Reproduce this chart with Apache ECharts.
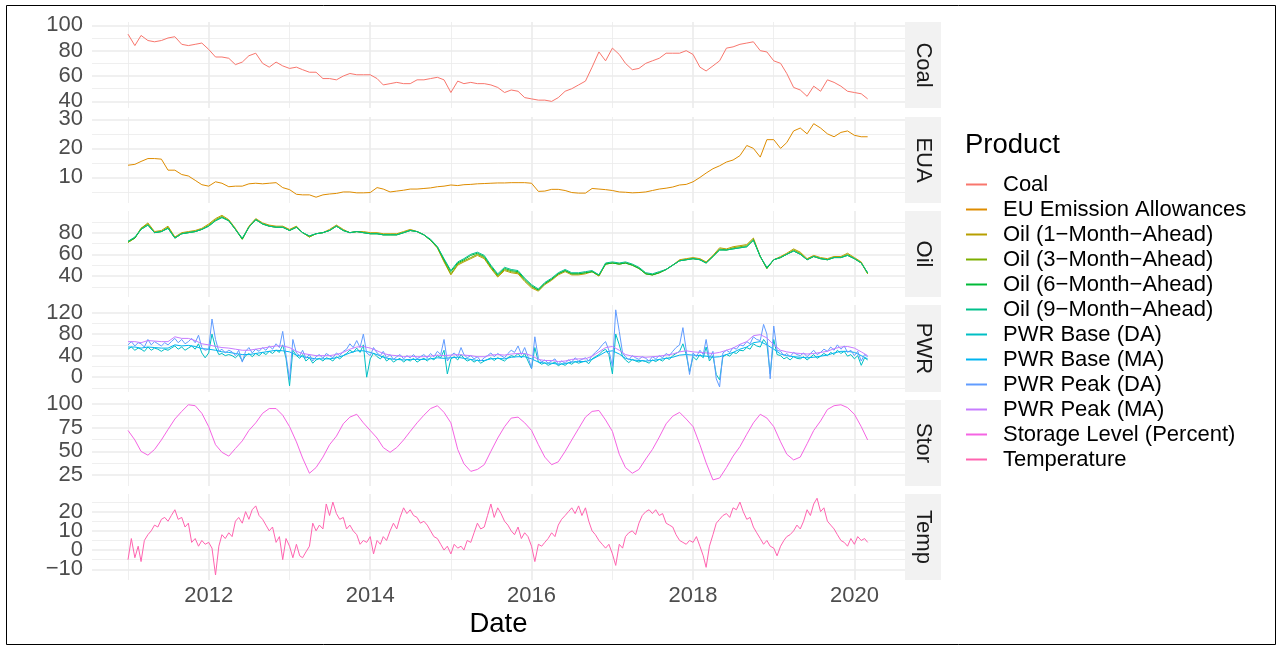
<!DOCTYPE html>
<html>
<head>
<meta charset="utf-8">
<title>Product prices</title>
<script src="https://cdn.jsdelivr.net/npm/echarts@6/dist/echarts.min.js"></script>
<style>
html, body { margin: 0; padding: 0; background: #fff; }
#main { width: 1279px; height: 649px; }
</style>
</head>
<body>
<div id="main"></div>
<script>
// dates: first of each month, Jan 2011 - Mar 2020
var months = [];
// dates: 1st and 16th of each month, Jan 2011 - Mar 1 2020
var halfMonths = [];
for (var yr = 2011; yr <= 2020; yr++) {
    for (var mo = 1; mo <= 12; mo++) {
        if (yr === 2020 && mo > 3) break;
        var mm = mo < 10 ? '0' + mo : '' + mo;
        months.push(yr + '-' + mm + '-01');
        halfMonths.push(yr + '-' + mm + '-01');
        if (!(yr === 2020 && mo === 3)) halfMonths.push(yr + '-' + mm + '-16');
    }
}

var majorYears = ['2012-01-01', '2014-01-01', '2016-01-01', '2018-01-01', '2020-01-01'];
var minorYears = ['2011-01-01', '2013-01-01', '2015-01-01', '2017-01-01', '2019-01-01'];

var products = ['Coal', 'EU Emission Allowances', 'Oil (1\u2212Month\u2212Ahead)', 'Oil (3\u2212Month\u2212Ahead)',
    'Oil (6\u2212Month\u2212Ahead)', 'Oil (9\u2212Month\u2212Ahead)', 'PWR Base (DA)', 'PWR Base (MA)',
    'PWR Peak (DA)', 'PWR Peak (MA)', 'Storage Level (Percent)', 'Temperature'];
var colors = ['#F8766D', '#DE8C00', '#B79F00', '#7CAE00', '#00BA38', '#00C08B',
    '#00BFC4', '#00B4F0', '#619CFF', '#C77CFF', '#F564E3', '#FF64B0'];

// monthly
var coal = [
    93, 84, 92, 88, 87, 88, 90, 91, 85, 84, 85, 86,
    81, 75, 75, 74, 69, 71, 76, 78, 70, 67, 71, 68,
    66, 67, 65, 63, 63, 58, 58, 57, 60, 62, 61, 61,
    61, 58, 53, 54, 55, 54, 54, 57, 57, 58, 59, 57,
    47, 56, 54, 55, 54, 54, 53, 51, 47, 49, 48, 43,
    42, 41, 41, 40, 43, 48, 50, 53, 56, 67, 79, 72,
    82, 77, 70, 65, 66, 70, 72, 74, 78, 78, 78, 80,
    77, 67, 64, 68, 72, 82, 83, 85, 86, 87, 80, 79,
    72, 70, 62, 51, 49, 44, 52, 48, 57, 55, 52, 48,
    47, 46, 42];
var eua = [
    14.2, 14.5, 15.5, 16.5, 16.5, 16.3, 12.5, 12.5, 11, 10.5, 9, 7.5,
    7, 8.5, 8, 6.8, 7, 7, 7.8, 8, 7.8, 8, 8.2, 6.5,
    5.8, 4.2, 4, 4, 3.2, 4, 4.3, 4.5, 5, 5, 4.7, 4.7,
    4.8, 6.5, 6, 5, 5.3, 5.6, 6, 6, 6.2, 6.4, 6.8, 7,
    7.4, 7.2, 7.5, 7.6, 7.8, 7.9, 8, 8.1, 8.1, 8.2, 8.2, 8.2,
    8, 5.2, 5.3, 5.9, 5.9, 5.5, 4.8, 4.6, 4.6, 6.2, 6, 5.8,
    5.5, 5, 4.9, 4.7, 4.8, 5, 5.5, 6, 6.3, 6.7, 7.4, 7.6,
    8.5, 10, 11.5, 13, 14, 15.3, 16, 17.5, 21, 20, 17, 23,
    23, 20, 22, 26, 27, 25, 28.5, 27, 25, 24, 25.5, 26,
    24.5, 24, 24];
var oil1m = [
    71, 75, 84, 89, 81, 82, 86, 76, 80, 81, 82, 84,
    88, 93, 96, 92, 84, 74, 86, 93, 89, 87, 86, 86,
    83, 86, 80, 76, 79, 80, 83, 87, 83, 80, 81, 81,
    80, 80, 79, 79, 79, 81, 83, 81, 78, 73, 66, 53,
    41, 50, 53, 56, 59, 56, 47, 39, 45, 43, 42, 35,
    29, 26, 32, 36, 41, 44, 41, 41, 42, 44, 40, 51,
    52, 51, 52, 50, 47, 42, 41, 43, 46, 50, 55, 56,
    57, 56, 53, 59, 66, 65, 67, 68, 69, 75, 58, 47,
    55, 58, 61, 65, 62, 56, 59, 57, 56, 58, 58, 61,
    57, 53, 42];
var oil3m = [
    71, 75, 84, 88, 80, 81, 85, 75, 79, 80, 81, 83,
    87, 92, 95, 91, 83, 74, 85, 92, 88, 86, 85, 85,
    82, 85, 80, 76, 79, 80, 82, 86, 82, 80, 81, 80,
    79, 79, 78, 78, 78, 80, 82, 81, 78, 73, 66, 54,
    42, 51, 54, 57, 60, 57, 48, 40, 46, 44, 43, 36,
    30, 27, 33, 37, 42, 45, 42, 42, 43, 44, 40, 51,
    52, 51, 52, 50, 47, 42, 41, 43, 46, 50, 54, 55,
    56, 55, 52, 58, 65, 64, 66, 67, 68, 74, 58, 47,
    55, 57, 60, 64, 61, 55, 58, 56, 55, 57, 57, 60,
    56, 52, 42];
var oil6m = [
    72, 75, 83, 87, 80, 81, 84, 75, 79, 80, 81, 83,
    86, 91, 94, 91, 83, 74, 85, 92, 88, 86, 85, 85,
    82, 85, 80, 77, 79, 80, 82, 86, 82, 80, 81, 80,
    79, 79, 78, 78, 78, 80, 82, 81, 78, 73, 67, 55,
    44, 52, 55, 59, 61, 58, 49, 41, 47, 45, 44, 37,
    31, 27, 33, 37, 42, 45, 42, 42, 43, 44, 41, 51,
    52, 51, 52, 50, 47, 42, 41, 43, 46, 50, 54, 55,
    56, 55, 52, 58, 64, 64, 65, 66, 67, 73, 58, 47,
    55, 57, 60, 63, 60, 55, 58, 56, 55, 57, 57, 59,
    56, 52, 43];
var oil9m = [
    72, 76, 83, 87, 80, 81, 84, 75, 79, 80, 81, 83,
    86, 91, 94, 91, 83, 75, 85, 92, 88, 86, 85, 85,
    82, 85, 80, 77, 79, 80, 82, 86, 82, 80, 81, 80,
    79, 79, 78, 78, 78, 80, 82, 81, 78, 74, 67, 56,
    45, 53, 56, 60, 62, 59, 50, 42, 48, 46, 45, 38,
    32, 28, 34, 38, 43, 46, 43, 43, 44, 45, 41, 52,
    53, 52, 53, 51, 48, 43, 42, 44, 46, 50, 54, 55,
    56, 55, 52, 58, 64, 64, 65, 66, 67, 73, 58, 48,
    55, 57, 60, 63, 60, 55, 58, 56, 55, 57, 57, 59,
    56, 52, 43];
var pwrBaseMA = [
    56, 56, 54, 56, 55, 54, 54, 60, 58, 59, 57, 53,
    52, 50, 47, 46, 44, 42, 42, 44, 46, 48, 50, 49,
    47, 41, 38, 36, 34, 34, 34, 36, 40, 45, 49, 49,
    46, 42, 37, 34, 33, 32, 33, 33, 33, 34, 36, 35,
    36, 37, 35, 33, 31, 31, 34, 35, 34, 37, 38, 38,
    34, 28, 26, 26, 24, 25, 28, 29, 29, 33, 40, 47,
    49, 43, 35, 32, 31, 30, 31, 33, 35, 37, 41, 42,
    41, 40, 39, 37, 38, 42, 46, 52, 56, 64, 66, 60,
    52, 43, 40, 38, 37, 36, 37, 39, 41, 45, 48, 48,
    46, 40, 34];
var pwrPeakMA = [
    66, 66, 64, 68, 67, 66, 66, 75, 72, 72, 68, 62,
    60, 57, 55, 54, 52, 50, 50, 52, 54, 56, 58, 58,
    55, 48, 44, 42, 40, 40, 40, 42, 46, 52, 56, 57,
    54, 49, 44, 41, 40, 38, 39, 38, 38, 39, 41, 40,
    41, 42, 41, 40, 38, 38, 41, 42, 41, 43, 44, 44,
    40, 33, 31, 31, 29, 30, 33, 34, 34, 39, 47, 55,
    57, 50, 42, 39, 38, 37, 38, 39, 41, 43, 47, 49,
    47, 46, 45, 44, 46, 50, 54, 61, 66, 77, 79, 73,
    60, 50, 47, 45, 44, 43, 44, 46, 48, 53, 56, 57,
    54, 47, 40];
var storage = [
    72, 62, 50, 46, 52, 62, 73, 84, 92, 99, 98, 90,
    76, 57, 49, 45, 53, 61, 72, 80, 90, 95, 95, 88,
    76, 60, 43, 27, 33, 44, 57, 66, 79, 86, 89, 80,
    72, 64, 54, 49, 54, 62, 71, 80, 88, 95, 98, 91,
    80, 52, 37, 29, 31, 36, 50, 64, 76, 85, 86, 80,
    72, 57, 44, 36, 39, 50, 62, 74, 86, 92, 93, 83,
    71, 47, 33, 27, 31, 42, 52, 65, 79, 87, 91, 84,
    76, 57, 38, 20, 22, 33, 45, 55, 68, 80, 89, 85,
    76, 60, 47, 41, 44, 58, 72, 82, 94, 98, 99, 96,
    89, 76, 62];

// half-monthly
var pwrBaseDA = [
    52, 56, 50, 54, 52, 48, 56, 50, 54, 52, 48, 52, 50, 54, 58, 52, 56, 50, 54, 58, 52, 62, 45, 36,
    45, 80, 55, 42, 44, 40, 42, 40, 36, 42, 30, 40, 44, 38, 44, 40, 46, 42, 48, 44, 50, 46, 60, 35,
    -16, 50, 40, 35, 42, 30, 36, 26, 32, 35, 30, 36, 34, 30, 38, 34, 40, 44, 50, 46, 54, 46, 60, 0,
    34, 45, 38, 34, 40, 30, 35, 28, 32, 35, 28, 33, 30, 35, 28, 32, 35, 30, 36, 32, 40, 36, 50, 6,
    34, 38, 32, 42, 35, 30, 33, 28, 32, 26, 30, 33, 36, 31, 36, 33, 30, 36, 40, 38, 44, 36, 44, 30,
    16, 55, 28, 24, 27, 22, 25, 28, 21, 25, 22, 27, 24, 29, 26, 28, 30, 25, 34, 38, 42, 48, 52, 42,
    6, 80, 60, 38, 32, 27, 33, 30, 28, 31, 29, 26, 32, 29, 33, 30, 36, 33, 40, 44, 48, 62, 42, 10,
    38, 32, 42, 36, 56, 30, 40, 5, -5, 38, 42, 39, 46, 44, 50, 49, 55, 52, 62, 58, 56, 70, 62, 6,
    70, 42, 40, 34, 37, 32, 38, 35, 34, 38, 32, 37, 42, 35, 39, 44, 40, 46, 42, 50, 44, 48, 39, 42,
    34, 40, 22, 36, 32];
var pwrPeakDA = [
    60, 66, 58, 64, 62, 56, 70, 60, 66, 62, 58, 64, 60, 66, 72, 64, 70, 62, 66, 72, 64, 78, 55, 50,
    52, 108, 70, 48, 52, 45, 50, 47, 40, 50, 28, 48, 55, 45, 52, 48, 55, 50, 58, 52, 62, 55, 85, 40,
    -5, 70, 45, 40, 50, 35, 42, 30, 38, 42, 35, 44, 40, 36, 45, 40, 48, 52, 62, 55, 68, 55, 80, 45,
    40, 55, 45, 40, 48, 36, 42, 33, 38, 42, 34, 40, 36, 42, 34, 38, 42, 36, 44, 38, 48, 42, 70, 30,
    40, 45, 38, 55, 42, 36, 40, 34, 38, 30, 36, 40, 45, 38, 44, 40, 36, 44, 50, 46, 58, 42, 55, 38,
    16, 75, 35, 28, 32, 26, 30, 34, 24, 30, 26, 32, 28, 36, 30, 33, 36, 30, 40, 46, 52, 60, 66, 50,
    20, 125, 85, 45, 38, 32, 40, 36, 33, 38, 35, 30, 38, 34, 40, 36, 44, 40, 48, 55, 60, 92, 50, 5,
    45, 38, 50, 42, 70, 35, 48, -3, -18, 45, 50, 46, 55, 52, 60, 58, 66, 62, 75, 70, 68, 98, 80, -3,
    95, 50, 48, 40, 44, 38, 46, 42, 40, 45, 38, 44, 50, 42, 46, 52, 48, 56, 50, 60, 52, 58, 46, 50,
    40, 48, 30, 42, 38];
var temperature = [
    -5, 6, -4, 2, -6, 5, 8, 10, 13, 12, 16, 17, 15, 18, 21, 16, 17, 12, 14, 4, 6, 2, 5, 3,
    4, 1, -13, 2, 8, 6, 9, 7, 15, 17, 14, 20, 16, 21, 23, 18, 16, 13, 10, 12, 4, 7, -5, 6,
    2, -4, 3, -3, -4, -1, 2, 14, 10, 13, 11, 24, 18, 25, 19, 16, 17, 11, 13, 10, 8, 3, 5, 4,
    7, -2, 5, 3, 7, 5, 10, 14, 11, 17, 22, 19, 21, 18, 17, 14, 15, 13, 10, 7, 6, 3, 0, 2,
    -2, 3, 1, 2, 0, 5, 4, 9, 14, 11, 12, 18, 24, 17, 22, 19, 15, 13, 10, 8, 12, 6, 9, 7,
    2, -6, 3, 2, 4, 6, 9, 7, 13, 16, 18, 20, 22, 19, 23, 18, 22, 15, 10, 8, 5, 3, 1, 3,
    -2, -8, 3, 1, 7, 9, 10, 8, 14, 18, 20, 21, 19, 21, 18, 19, 14, 13, 12, 8, 5, 4, 3, 5,
    4, 7, 2, -3, -9, 2, 8, 14, 16, 18, 19, 17, 22, 21, 25, 20, 16, 17, 12, 9, 6, 3, 5, 2,
    1, -3, 2, 5, 7, 8, 10, 13, 11, 15, 21, 18, 24, 27, 20, 22, 15, 13, 11, 8, 5, 4, 2, 6,
    3, 7, 5, 6, 4];

// y tick labels per facet
var coalTicks = [40, 60, 80, 100], coalMinor = [50, 70, 90];
var euaTicks = [10, 20, 30], euaMinor = [5, 15, 25];
var oilTicks = [40, 60, 80], oilMinor = [30, 50, 70, 90];
var pwrTicks = [0, 40, 80, 120], pwrMinor = [-20, 20, 60, 100];
var storTicks = [25, 50, 75, 100], storMinor = [37.5, 62.5, 87.5];
var tempTicks = [-10, 0, 10, 20], tempMinor = [-5, 5, 15, 25];

var FONT = 'Liberation Sans, Arial, Helvetica, sans-serif';
var GRID_COL = '#EBEBEB';
var X_MIN = Date.parse('2010-07-22'), X_MAX = Date.parse('2020-08-17');
var PANEL_LEFT = 92, PANEL_W = 813;

var panels = [
    { strip: 'Coal', top: 22, height: 86, min: 34.8, max: 102.6, ticks: coalTicks, minor: coalMinor },
    { strip: 'EUA', top: 117, height: 86, min: 1.2, max: 30.8, ticks: euaTicks, minor: euaMinor },
    { strip: 'Oil', top: 211, height: 86, min: 20.6, max: 100, ticks: oilTicks, minor: oilMinor },
    { strip: 'PWR', top: 305, height: 87, min: -27.5, max: 134, ticks: pwrTicks, minor: pwrMinor },
    { strip: 'Stor', top: 400, height: 86, min: 13.6, max: 104, ticks: storTicks, minor: storMinor },
    { strip: 'Temp', top: 494, height: 86, min: -15.6, max: 29.2, ticks: tempTicks, minor: tempMinor }
];

// series -> [panel, dates, values]
var seriesDefs = [
    [0, months, coal], [1, months, eua],
    [2, months, oil1m], [2, months, oil3m], [2, months, oil6m], [2, months, oil9m],
    [3, halfMonths, pwrBaseDA], [3, months, pwrBaseMA], [3, halfMonths, pwrPeakDA], [3, months, pwrPeakMA],
    [4, months, storage], [5, halfMonths, temperature]
];

function fmtNum(v) {
    return v < 0 ? '\u2212' + Math.abs(v) : String(v);
}
var majorTs = majorYears.map(Date.parse);
var minorTs = minorYears.map(Date.parse);

var yLabelStyle = function (vals) {
    return {
        show: vals.length > 0, customValues: vals, margin: 9,
        showMinLabel: true, showMaxLabel: true, hideOverlap: false,
        fontSize: 22, color: '#4D4D4D', fontFamily: FONT, formatter: fmtNum
    };
};

var grids = [], xAxes = [], yAxes = [], graphics = [];
panels.forEach(function (p, i) {
    grids.push({ left: PANEL_LEFT, width: PANEL_W, top: p.top, height: p.height });
    var last = i === panels.length - 1;
    // major x gridlines (+ labels on the bottom facet)
    xAxes.push({
        type: 'value', gridIndex: i, min: X_MIN, max: X_MAX, position: 'bottom',
        axisLine: { show: false },
        axisTick: { show: false, customValues: majorTs },
        axisLabel: {
            show: last, customValues: majorTs, margin: 5, hideOverlap: false,
            showMinLabel: true, showMaxLabel: true,
            fontSize: 22, color: '#4D4D4D', fontFamily: FONT,
            formatter: function (v) { return String(new Date(v).getUTCFullYear()); }
        },
        splitLine: { show: true, lineStyle: { color: GRID_COL, width: 1.6 } }
    });
    // minor x gridlines
    xAxes.push({
        type: 'value', gridIndex: i, min: X_MIN, max: X_MAX, position: 'top',
        axisLine: { show: false },
        axisTick: { show: false, customValues: minorTs },
        axisLabel: { show: false },
        splitLine: { show: true, lineStyle: { color: GRID_COL, width: 0.8 } }
    });
    // tick labels alternate between the two left axes so close labels are all kept
    var evenTicks = p.ticks.filter(function (v, k) { return k % 2 === 0; });
    var oddTicks = p.ticks.filter(function (v, k) { return k % 2 === 1; });
    yAxes.push({
        type: 'value', gridIndex: i, min: p.min, max: p.max, position: 'left', offset: 0,
        axisLine: { show: false },
        axisTick: { show: false, customValues: p.ticks },
        axisLabel: yLabelStyle(evenTicks),
        splitLine: { show: true, lineStyle: { color: GRID_COL, width: 1.6 } }
    });
    yAxes.push({
        type: 'value', gridIndex: i, min: p.min, max: p.max, position: 'left', offset: 0,
        axisLine: { show: false },
        axisTick: { show: false, customValues: p.minor },
        axisLabel: yLabelStyle(oddTicks),
        splitLine: { show: true, lineStyle: { color: GRID_COL, width: 0.8 } }
    });
    // facet strip
    graphics.push({
        type: 'rect', shape: { x: 905, y: p.top, width: 36, height: p.height },
        style: { fill: '#F2F2F2' }, silent: true
    });
    graphics.push({
        type: 'text', x: 923, y: p.top + p.height / 2, rotation: -Math.PI / 2,
        style: {
            text: p.strip, fill: '#1A1A1A', fontSize: 22, fontFamily: FONT,
            align: 'center', verticalAlign: 'middle'
        }, silent: true
    });
});

graphics.push({
    type: 'rect', shape: { x: 6.5, y: 5.5, width: 1269, height: 639 },
    style: { fill: 'none', stroke: '#000', lineWidth: 1 }, silent: true
});
graphics.push({
    type: 'text', x: 965, y: 145,
    style: { text: 'Product', fill: '#000', fontSize: 27.5, fontFamily: FONT, align: 'left', verticalAlign: 'middle' }
});
graphics.push({
    type: 'text', x: 498.5, y: 624,
    style: { text: 'Date', fill: '#000', fontSize: 27.5, fontFamily: FONT, align: 'center', verticalAlign: 'middle' }
});

var series = seriesDefs.map(function (d, k) {
    var dates = d[1], vals = d[2];
    return {
        name: products[k], type: 'line',
        xAxisIndex: d[0] * 2, yAxisIndex: d[0] * 2,
        data: vals.map(function (v, j) { return [Date.parse(dates[j]), v]; }),
        showSymbol: false, symbol: 'none',
        color: colors[k],
        lineStyle: { width: 1, color: colors[k] },
        emphasis: { disabled: true }
    };
});

var chart = echarts.init(document.getElementById('main'));
chart.setOption({
    animation: false,
    backgroundColor: '#fff',
    grid: grids,
    xAxis: xAxes,
    yAxis: yAxes,
    legend: {
        orient: 'vertical', left: 966, top: 172, padding: 0, itemGap: 0,
        itemWidth: 21, itemHeight: 2,
        icon: 'path://M0,0H21V2H0Z',
        data: products,
        textStyle: { fontSize: 22, color: '#000', fontFamily: FONT, lineHeight: 25, padding: [0, 0, 0, 11] }
    },
    graphic: graphics,
    series: series
});
window.addEventListener('resize', function () { chart.resize(); });
</script>
</body>
</html>
